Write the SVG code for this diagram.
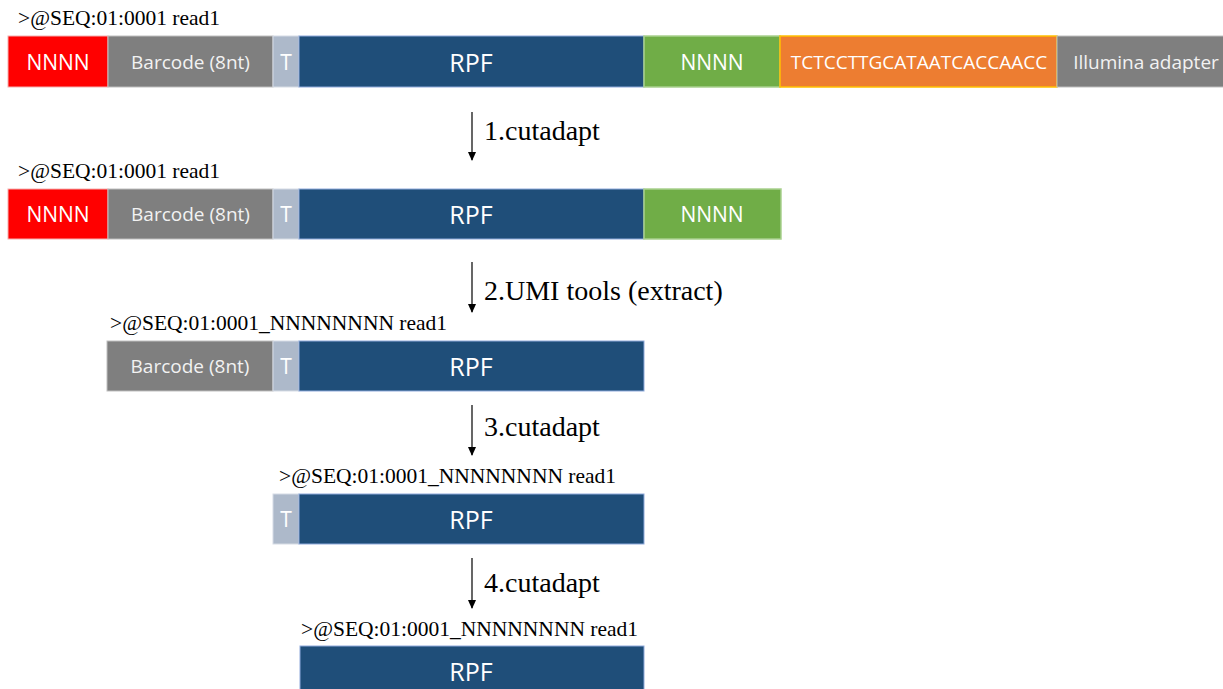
<svg xmlns="http://www.w3.org/2000/svg" width="1223" height="689" viewBox="0 0 1223 689">
<style>
.hdr{font-family:"Liberation Serif","Times New Roman",serif;font-size:21.5px;fill:#000}
.step{font-family:"Liberation Serif","Times New Roman",serif;font-size:28px;fill:#000}
.lbl{font-family:"Open Sans","Noto Sans",sans-serif;font-size:21px;fill:#fff;text-anchor:middle;dominant-baseline:central}
.big{font-size:25px}
.lbl2{font-family:"Open Sans","Noto Sans",sans-serif;font-size:19px;fill:#f2f2f2;text-anchor:middle;dominant-baseline:central}
.red{fill:#ff0000;stroke:#f4b0b0;stroke-width:1}
.gray{fill:#7f7f7f;stroke:#bfbfbf;stroke-width:1}
.t{fill:#adb9ca;stroke:#d6dce5;stroke-width:1}
.rpf{fill:#1f4e79;stroke:#8faadc;stroke-width:1}
.grn{fill:#70ad47;stroke:#a9d18e;stroke-width:1.5}
.org{fill:#ed7d31;stroke:#ffc000;stroke-width:1.5}
.conn{stroke:#000;stroke-width:1.2;fill:none;marker-end:url(#ah)}
</style>
<defs>
<marker id="ah" markerWidth="10" markerHeight="10" refX="8" refY="4" orient="auto" markerUnits="userSpaceOnUse">
<path d="M0,0 L9,4 L0,8 z" fill="#000"/>
</marker>
</defs>
<rect width="1223" height="689" fill="#fff"/>

<g id="read1">
<text class="hdr" x="18" y="25">&gt;@SEQ:01:0001 read1</text>
<rect class="red" x="8" y="36" width="100" height="51"/>
<text class="lbl" x="58" y="62">NNNN</text>
<rect class="gray" x="108" y="36" width="165" height="51"/>
<text class="lbl2" x="190.5" y="62">Barcode (8nt)</text>
<rect class="t" x="273" y="36" width="26" height="51"/>
<text class="lbl" x="286" y="62">T</text>
<rect class="rpf" x="299" y="36" width="345" height="51"/>
<text class="lbl big" x="471" y="62">RPF</text>
<rect class="grn" x="644" y="36" width="136" height="51"/>
<text class="lbl" x="712" y="62">NNNN</text>
<rect class="org" x="780" y="36" width="277" height="51"/>
<text class="lbl2" x="919" y="62" style="fill:#fff">TCTCCTTGCATAATCACCAACC</text>
<rect class="gray" x="1057" y="36" width="170" height="51"/>
<text class="lbl2" x="1146" y="62">Illumina adapter</text>
</g>

<g id="read2">
<text class="hdr" x="18" y="178">&gt;@SEQ:01:0001 read1</text>
<rect class="red" x="8" y="189" width="100" height="50"/>
<text class="lbl" x="58" y="214">NNNN</text>
<rect class="gray" x="108" y="189" width="165" height="50"/>
<text class="lbl2" x="190.5" y="214">Barcode (8nt)</text>
<rect class="t" x="273" y="189" width="26" height="50"/>
<text class="lbl" x="286" y="214">T</text>
<rect class="rpf" x="299" y="189" width="345" height="50"/>
<text class="lbl big" x="471" y="214">RPF</text>
<rect class="grn" x="644" y="189" width="137" height="50"/>
<text class="lbl" x="712" y="214">NNNN</text>
</g>

<g id="read3">
<text class="hdr" x="110" y="330">&gt;@SEQ:01:0001_NNNNNNNN read1</text>
<rect class="gray" x="107" y="341" width="166" height="50"/>
<text class="lbl2" x="190" y="366">Barcode (8nt)</text>
<rect class="t" x="273" y="341" width="26" height="50"/>
<text class="lbl" x="286" y="366">T</text>
<rect class="rpf" x="299" y="341" width="345" height="50"/>
<text class="lbl big" x="471" y="366">RPF</text>
</g>

<g id="read4">
<text class="hdr" x="279" y="483">&gt;@SEQ:01:0001_NNNNNNNN read1</text>
<rect class="t" x="273" y="494" width="26" height="50"/>
<text class="lbl" x="286" y="519">T</text>
<rect class="rpf" x="299" y="494" width="345" height="50"/>
<text class="lbl big" x="471" y="519">RPF</text>
</g>

<g id="read5">
<text class="hdr" x="301" y="636">&gt;@SEQ:01:0001_NNNNNNNN read1</text>
<rect class="rpf" x="300" y="646" width="344" height="50"/>
<text class="lbl big" x="471" y="671">RPF</text>
</g>

<g id="connectors">
<line class="conn" x1="472" y1="112" x2="472" y2="160"/>
<line class="conn" x1="472" y1="262" x2="472" y2="312"/>
<line class="conn" x1="472" y1="405" x2="472" y2="455"/>
<line class="conn" x1="472" y1="558" x2="472" y2="608"/>
<text class="step" x="484" y="140">1.cutadapt</text>
<text class="step" x="484" y="300">2.UMI tools (extract)</text>
<text class="step" x="484" y="436">3.cutadapt</text>
<text class="step" x="484" y="592">4.cutadapt</text>
</g>
</svg>
